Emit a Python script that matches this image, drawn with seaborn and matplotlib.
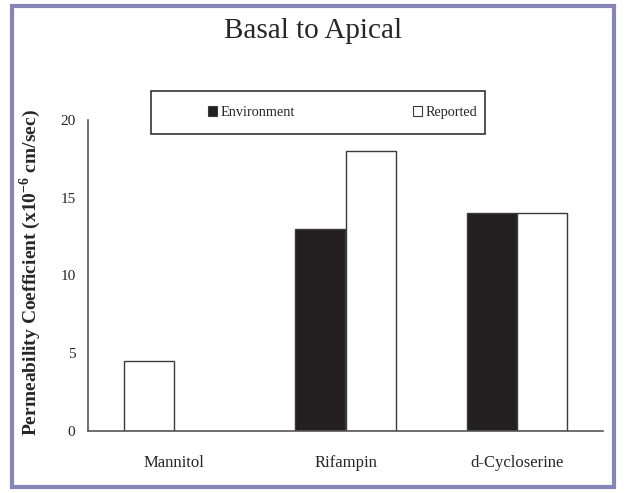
import matplotlib
matplotlib.use("Agg")
import matplotlib.pyplot as plt
import seaborn as sns
import pandas as pd
from matplotlib.patches import Rectangle, Patch

categories = ["Mannitol", "Rifampin", "d-Cycloserine"]
environment = [0.0, 13.0, 14.0]
reported = [4.5, 18.0, 14.0]
series_names = ["Environment", "Reported"]
y_ticks = [0, 5, 10, 15, 20]

df = pd.DataFrame({
    "drug": categories * 2,
    "value": environment + reported,
    "series": [series_names[0]] * 3 + [series_names[1]] * 3,
})

sns.set_style("white")
plt.rcParams["font.family"] = ["Liberation Serif", "DejaVu Serif"]
plt.rcParams["mathtext.fontset"] = "custom"
plt.rcParams["mathtext.rm"] = "Liberation Serif"
plt.rcParams["mathtext.bf"] = "Liberation Serif:bold"

fig = plt.figure(figsize=(6.26, 4.93), dpi=100)
ax = fig.add_axes([88/626, 1-431/493, (603-88)/626, (431-120)/493])

palette = {"Environment": "#231f20", "Reported": "#ffffff"}
sns.barplot(data=df, x="drug", y="value", hue="series", order=categories,
            hue_order=series_names, palette=palette, width=0.585,
            edgecolor="#3a3a3a", linewidth=1.0, legend=False, ax=ax, saturation=1)

# In the original, the lone Mannitol bar sits in the first slot of its group
env_patches = ax.containers[0].patches
rep_patches = ax.containers[1].patches
if environment[0] == 0:
    env_patches[0].set_visible(False)
    p = rep_patches[0]
    p.set_x(p.get_x() - p.get_width())

ax.set_xlim(-0.5, 2.5)
ax.set_ylim(0, 20)
ax.set_yticks(y_ticks)
ax.set_xlabel("")
ax.set_ylabel("")
for s in ["top", "right"]:
    ax.spines[s].set_visible(False)
for s in ["left", "bottom"]:
    ax.spines[s].set_color("#555555")
    ax.spines[s].set_linewidth(1.2)
ax.tick_params(axis="y", direction="out", length=5, width=1.0, color="#555555",
               labelsize=11, pad=4)
ax.tick_params(axis="x", length=0, labelsize=12, pad=17)

fig.text(30/626, 1-273/493, "Permeability Coefficient (x10$^{\\mathbf{-6}}$ cm/sec)",
         rotation=90, ha="center", va="center", fontsize=14, fontweight="bold")

fig.text(0.5, 1-31/493, "Basal to Apical", ha="center", va="center", fontsize=21)

# legend box
fig.patches.append(Rectangle((151/626, 1-134/493), (485-151)/626, 43/493,
                             transform=fig.transFigure, facecolor="white",
                             edgecolor="#333333", linewidth=1.2, zorder=2))
handles = [Patch(facecolor="#231f20", edgecolor="#3a3a3a", lw=0.8),
           Patch(facecolor="white", edgecolor="#3a3a3a", lw=0.8)]
leg = fig.legend(handles, series_names, loc="center left",
                 bbox_to_anchor=(208/626, 1-112.5/493),
                 ncol=2, fontsize=10.3, frameon=False,
                 handlelength=0.6, handleheight=0.75, handletextpad=0.25,
                 columnspacing=8.3, borderaxespad=0, borderpad=0)
leg.set_zorder(3)

fig.patches.append(Rectangle((12/626, 1-487/493), 602/626, 481/493, transform=fig.transFigure,
                             fill=False, edgecolor="#8585b8", linewidth=3))

fig.savefig("out.png", dpi=100)
